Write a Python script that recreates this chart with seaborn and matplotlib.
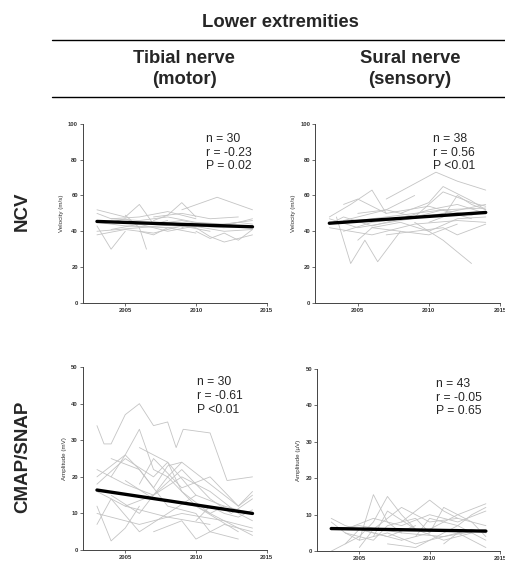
import numpy as np
import pandas as pd
import matplotlib
matplotlib.use("Agg")
import matplotlib.pyplot as plt
from matplotlib.lines import Line2D
import seaborn as sns

# ---------------- data ----------------
tib_ncv_years = [
    [2003, 2004, 2005, 2006, 2008, 2010, 2012, 2014],
    [2003, 2004, 2005],
    [2003, 2005, 2006, 2007, 2008],
    [2005, 2006, 2006.5],
    [2007, 2008, 2009, 2010],
    [2009, 2011.5, 2014],
    [2003, 2006, 2009, 2012, 2014],
    [2004, 2006, 2008, 2010, 2012, 2014],
    [2003, 2005, 2007, 2009, 2011],
    [2008, 2010, 2011, 2012, 2014],
    [2010, 2011, 2012, 2013, 2014],
    [2003, 2004, 2006, 2008, 2010],
    [2005, 2007, 2009, 2011, 2013, 2014],
    [2004, 2006, 2008, 2010, 2012],
    [2007, 2009, 2011, 2013],
    [2003, 2005, 2008, 2011, 2014],
    [2009, 2010, 2012, 2014],
    [2006, 2007, 2008, 2010],
]
tib_ncv_vals = [
    [46, 45, 47, 44, 45, 43, 42, 43],
    [43, 30, 40],
    [52, 48, 55, 44, 46],
    [49, 42, 30],
    [46, 49, 56, 48],
    [52, 59, 52],
    [40, 42, 44, 40, 41],
    [47, 46, 48, 45, 44, 46],
    [38, 41, 39, 43, 40],
    [44, 42, 37, 34, 38],
    [40, 36, 39, 35, 41],
    [50, 47, 48, 51, 47],
    [45, 44, 46, 43, 45, 44],
    [41, 44, 40, 43, 42],
    [48, 50, 47, 48],
    [45, 43, 42, 44, 42],
    [42, 45, 43, 47],
    [40, 38, 42, 39],
]

sur_ncv_years = [
    [2003, 2004.5, 2006, 2007],
    [2003.5, 2004.5, 2005.5, 2006.4, 2008],
    [2007, 2010.5, 2012, 2014],
    [2009, 2011, 2013],
    [2003, 2005, 2007, 2009, 2011, 2014],
    [2004, 2006, 2008, 2010, 2012, 2014],
    [2005, 2007, 2009, 2011, 2013, 2014],
    [2003, 2006, 2009, 2012, 2014],
    [2004, 2005, 2007, 2010, 2013],
    [2006, 2008, 2010, 2012, 2014],
    [2008, 2010, 2011, 2013, 2014],
    [2004, 2006, 2007, 2009],
    [2007, 2009, 2011, 2012, 2014],
    [2003, 2005, 2008, 2011, 2014],
    [2005, 2006, 2008, 2010, 2012],
    [2009, 2011, 2013, 2014],
    [2010, 2011, 2012, 2013, 2014],
    [2003, 2004, 2006, 2008],
]
sur_ncv_vals = [
    [48, 55, 63, 50],
    [48, 22, 35, 23, 40],
    [58, 73, 68, 63],
    [45, 35, 22],
    [44, 46, 48, 50, 52, 53],
    [40, 45, 47, 52, 55, 50],
    [50, 52, 48, 62, 56, 54],
    [42, 38, 44, 46, 45],
    [55, 58, 50, 54, 47],
    [42, 45, 40, 47, 48],
    [50, 56, 65, 57, 52],
    [46, 50, 52, 60],
    [38, 40, 42, 38, 44],
    [47, 42, 46, 50, 55],
    [35, 42, 40, 38, 44],
    [48, 52, 49, 51],
    [45, 48, 60, 55, 52],
    [44, 48, 43, 47],
]

tib_amp_years = [
    [2003, 2003.5, 2004, 2005, 2006, 2007, 2008, 2008.6, 2009.1, 2011, 2012.2, 2014],
    [2004, 2005, 2006, 2007, 2008],
    [2003, 2004, 2005, 2006, 2007, 2008, 2009],
    [2003, 2004, 2005, 2006],
    [2003, 2005, 2007, 2009, 2011, 2013, 2014],
    [2004, 2006, 2008, 2010, 2012, 2014],
    [2003, 2005, 2007, 2008, 2010, 2012, 2014],
    [2006, 2007, 2009, 2011, 2013, 2014],
    [2003, 2006, 2009, 2012, 2014],
    [2005, 2007, 2009, 2011, 2012.5, 2014],
    [2004, 2006, 2008, 2010, 2011, 2013],
    [2007, 2009, 2010, 2012, 2014],
    [2003, 2004, 2006, 2008, 2010],
    [2008, 2009, 2011, 2013, 2014],
    [2005, 2007, 2010, 2013],
    [2006, 2008, 2009, 2011, 2012],
    [2010, 2011, 2012, 2013, 2014],
    [2003, 2005, 2008, 2011],
]
tib_amp_vals = [
    [34, 29, 29, 37, 40, 34, 35, 28, 33, 32, 19, 20],
    [20, 26, 33, 22, 20],
    [20, 23, 26, 22, 17, 23, 24],
    [12, 2.5, 6, 12],
    [22, 18, 15, 20, 16, 10, 8],
    [15, 10, 20, 12, 8, 4],
    [18, 25, 20, 24, 15, 12, 10],
    [18, 25, 17, 20, 12, 15],
    [10, 7, 10, 8, 6],
    [12, 15, 22, 14, 10, 14],
    [25, 22, 12, 10, 5, 3],
    [5, 8, 3, 7, 5],
    [7, 14, 5, 10, 15],
    [20, 24, 18, 12, 16],
    [19, 14, 12, 5],
    [28, 24, 16, 10, 12],
    [8, 12, 10, 9, 11],
    [16, 12, 9, 7],
]

sur_amp_years = [
    [2003, 2004, 2005, 2006, 2007, 2008],
    [2004, 2005, 2006, 2007, 2008, 2009],
    [2008, 2009, 2010, 2011, 2012],
    [2010, 2012, 2014],
    [2003, 2004, 2005, 2007, 2009],
    [2005, 2007, 2009, 2011, 2013, 2014],
    [2004, 2006, 2008, 2010, 2012, 2014],
    [2006, 2007, 2009, 2011, 2013],
    [2007, 2009, 2011, 2012, 2014],
    [2003, 2005, 2008, 2011, 2014],
    [2005, 2006, 2008, 2010, 2012, 2014],
    [2009, 2010, 2012, 2013, 2014],
    [2004, 2006, 2007, 2009, 2010],
    [2008, 2010, 2011, 2013, 2014],
    [2003, 2004, 2006, 2008],
    [2011, 2012, 2013, 2014],
]
sur_amp_vals = [
    [8, 5, 3, 15.5, 8, 5],
    [2, 4, 8, 15, 10, 6],
    [8, 11, 14, 11, 9],
    [6, 10, 13],
    [0, 2, 6, 4, 7],
    [3, 5, 2, 4, 6, 5],
    [6, 9, 7, 10, 8, 11],
    [4, 11, 6, 3, 5],
    [2, 1, 5, 7, 3],
    [6, 7, 5, 4, 6],
    [1, 6, 12, 8, 9, 7],
    [4, 9, 7, 10, 12],
    [5, 3, 7, 9, 5],
    [3, 5, 12, 8, 4],
    [9, 7, 5, 3],
    [2, 5, 3, 1],
]

fit_years = [2003, 2014]
tib_ncv_fit = [45.5, 42.5]
sur_ncv_fit = [44.5, 50.5]
tib_amp_fit = [16.4, 10.0]
sur_amp_fit = [6.2, 5.5]

stats_text = ["n = 30\nr = -0.23\nP = 0.02",
              "n = 38\nr = 0.56\nP <0.01",
              "n = 30\nr = -0.61\nP <0.01",
              "n = 43\nr = -0.05\nP = 0.65"]
y_labels = ["Velocity (m/s)", "Velocity (m/s)", "Amplitude (mV)", "Amplitude (µV)"]
y_ticks = [[0, 20, 40, 60, 80, 100], [0, 20, 40, 60, 80, 100],
           [0, 10, 20, 30, 40, 50], [0, 10, 20, 30, 40, 50]]
x_ticks = [2005, 2010, 2015]
col_titles = ["Tibial nerve\n(motor)", "Sural nerve\n(sensory)"]
row_titles = ["NCV", "CMAP/SNAP"]
header = "Lower extremities"

# ---------------- plot ----------------
sns.set_theme(style="ticks")
plt.rcParams['font.family'] = ['Liberation Sans', 'DejaVu Sans']

fig = plt.figure(figsize=(5.05, 5.63), dpi=100)

positions = [
    [0.164, 0.462, 0.364, 0.318],
    [0.624, 0.462, 0.366, 0.318],
    [0.164, 0.023, 0.364, 0.325],
    [0.628, 0.021, 0.362, 0.324],
]
text_pos = [(0.67, 0.95), (0.64, 0.95), (0.62, 0.95), (0.65, 0.95)]
panels = [
    (tib_ncv_years, tib_ncv_vals, tib_ncv_fit),
    (sur_ncv_years, sur_ncv_vals, sur_ncv_fit),
    (tib_amp_years, tib_amp_vals, tib_amp_fit),
    (sur_amp_years, sur_amp_vals, sur_amp_fit),
]

for i, (pos, (yrs, vals, fit)) in enumerate(zip(positions, panels)):
    ax = fig.add_axes(pos)
    rows = []
    for sid, (ys, vs) in enumerate(zip(yrs, vals)):
        for y, v in zip(ys, vs):
            rows.append({"subject": sid, "year": y, "value": v})
    df = pd.DataFrame(rows)
    sns.lineplot(data=df, x="year", y="value", units="subject", estimator=None,
                 color="#c4c4c4", linewidth=0.6, ax=ax, sort=True)
    fdf = pd.DataFrame({"year": fit_years, "value": fit})
    sns.lineplot(data=fdf, x="year", y="value", color="black", linewidth=2.4, ax=ax)
    ax.set_xlim(2002, 2015)
    ax.set_ylim(y_ticks[i][0], y_ticks[i][-1])
    ax.set_xticks(x_ticks)
    ax.set_yticks(y_ticks[i])
    ax.tick_params(axis="both", labelsize=4.2, length=2, width=0.6, pad=1.5,
                   color="#555555")
    for lab in ax.get_xticklabels() + ax.get_yticklabels():
        lab.set_fontweight("bold")
        lab.set_color("#333333")
    ax.set_xlabel("")
    ax.set_ylabel(y_labels[i], fontsize=4.5, labelpad=3, color="#333333")
    sns.despine(ax=ax)
    for s in ["left", "bottom"]:
        ax.spines[s].set_linewidth(0.7)
        ax.spines[s].set_color("#444444")
    ax.text(text_pos[i][0], text_pos[i][1], stats_text[i], transform=ax.transAxes,
            fontsize=8.7, va="top", ha="left", linespacing=1.2)

# header texts and rules
fig.text(0.555, 0.960, header, ha="center", va="center", fontsize=13.3, fontweight="bold")
fig.add_artist(Line2D([0.103, 1.0], [0.929, 0.929], color="black", linewidth=1.0))
fig.text(0.365, 0.877, col_titles[0], ha="center", va="center", fontsize=13.3,
         fontweight="bold", linespacing=1.3)
fig.text(0.812, 0.877, col_titles[1], ha="center", va="center", fontsize=13.3,
         fontweight="bold", linespacing=1.3)
fig.add_artist(Line2D([0.103, 1.0], [0.828, 0.828], color="black", linewidth=1.0))
fig.text(0.045, 0.624, row_titles[0], ha="center", va="center", rotation=90,
         fontsize=13.5, fontweight="bold")
fig.text(0.045, 0.189, row_titles[1], ha="center", va="center", rotation=90,
         fontsize=13.5, fontweight="bold")

fig.savefig("out.png", dpi=100)
